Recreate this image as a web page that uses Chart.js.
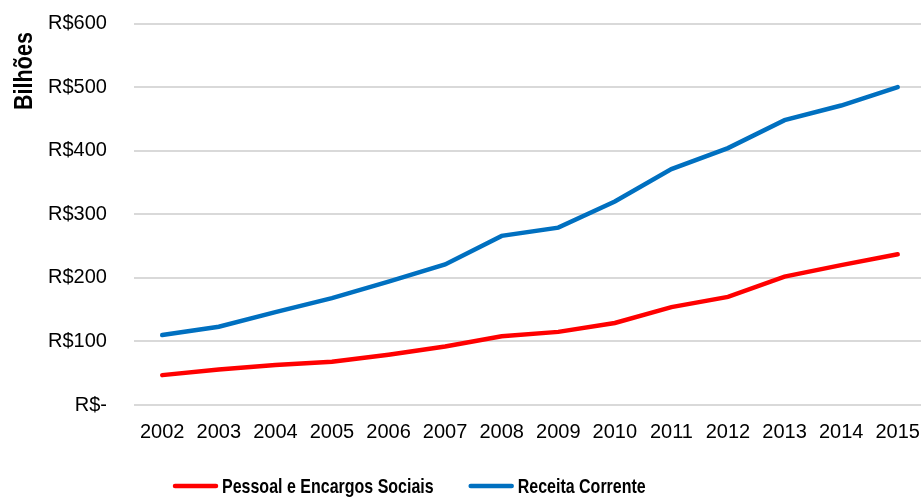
<!DOCTYPE html>
<html>
<head>
<meta charset="utf-8">
<script src="https://cdn.jsdelivr.net/npm/chart.js@4.4.1/dist/chart.umd.min.js"></script>
<style>
  html, body { margin: 0; padding: 0; background: #fff; overflow: hidden; }
</style>
</head>
<body>
<canvas id="grafico" width="926" height="497"></canvas>
<script>
// anos e valores em bilhões de reais
var anos = ["2002", "2003", "2004", "2005", "2006", "2007", "2008", "2009", "2010", "2011", "2012", "2013", "2014", "2015"];
var pessoal = [47, 56, 63, 68, 79, 92, 108, 115, 129, 154, 170, 202, 220, 237];
var receita = [110, 123, 146, 168, 194, 221, 266, 279, 320, 371, 404, 448, 471, 500];
var rotulosY = ["R$-", "R$100", "R$200", "R$300", "R$400", "R$500", "R$600"];

Chart.defaults.font.family = "'Liberation Sans', Arial, sans-serif";
Chart.defaults.color = "#000";

// título do eixo e legenda em fonte estreita (Arial Narrow não existe aqui, então comprime na mão)
const textoEstreito = {
  id: "textoEstreito",
  afterDraw(chart) {
    const c = chart.ctx;
    c.save();
    c.fillStyle = "#000";
    c.font = "bold 26px 'Liberation Sans', Arial, sans-serif";
    c.translate(32, 71);
    c.rotate(-Math.PI / 2);
    c.scale(0.83, 1);
    c.textAlign = "center";
    c.textBaseline = "alphabetic";
    c.fillText("Bilhões", 0, 0);
    c.restore();

    // legenda
    let x = 173;
    const yLinha = 486;
    const aperto = 0.762;
    c.save();
    c.font = "bold 21px 'Liberation Sans', Arial, sans-serif";
    c.textBaseline = "alphabetic";
    chart.data.datasets.forEach((ds) => {
      c.strokeStyle = ds.borderColor;
      c.lineWidth = 4.5;
      c.lineCap = "round";
      c.beginPath();
      c.moveTo(x + 2, yLinha);
      c.lineTo(x + 43, yLinha);
      c.stroke();
      x += 49;
      const w = c.measureText(ds.label).width * aperto;
      c.save();
      c.translate(x, 493);
      c.scale(aperto, 1);
      c.fillStyle = "#000";
      c.fillText(ds.label, 0, 0);
      c.restore();
      x += w + 35;
    });
    c.restore();
  },
};

const ctx = document.getElementById("grafico").getContext("2d");
const myChart = new Chart(ctx, {
  type: "line",
  data: {
    labels: anos,
    datasets: [
      {
        label: "Pessoal e Encargos Sociais",
        data: pessoal,
        borderColor: "#ff0000",
        borderWidth: 4.5,
        pointRadius: 0,
        borderCapStyle: "round",
        tension: 0,
      },
      {
        label: "Receita Corrente",
        data: receita,
        borderColor: "#0070c0",
        borderWidth: 4.5,
        pointRadius: 0,
        borderCapStyle: "round",
        tension: 0,
      },
    ],
  },
  options: {
    responsive: false,
    animation: false,
    layout: { padding: { top: 23.5, left: 48, right: 0, bottom: 53 } },
    plugins: {
      tooltip: { enabled: false },
      legend: { display: false },
    },
    scales: {
      x: {
        offset: true,
        grid: { display: true, drawOnChartArea: false, drawTicks: true, tickLength: 15, tickColor: "rgba(0,0,0,0)" },
        border: { display: false },
        ticks: { font: { size: 20 }, padding: 0, maxRotation: 0 },
      },
      y: {
        min: 0,
        max: 600,
        grid: { color: "#d9d9d9", lineWidth: 2, drawTicks: true, tickLength: 27, tickColor: "rgba(0,0,0,0)" },
        border: { display: false },
        ticks: {
          stepSize: 100,
          padding: 0,
          font: { size: 20 },
          callback: function (v, i) { return rotulosY[i]; },
        },
      },
    },
  },
  plugins: [textoEstreito],
});
</script>
</body>
</html>
